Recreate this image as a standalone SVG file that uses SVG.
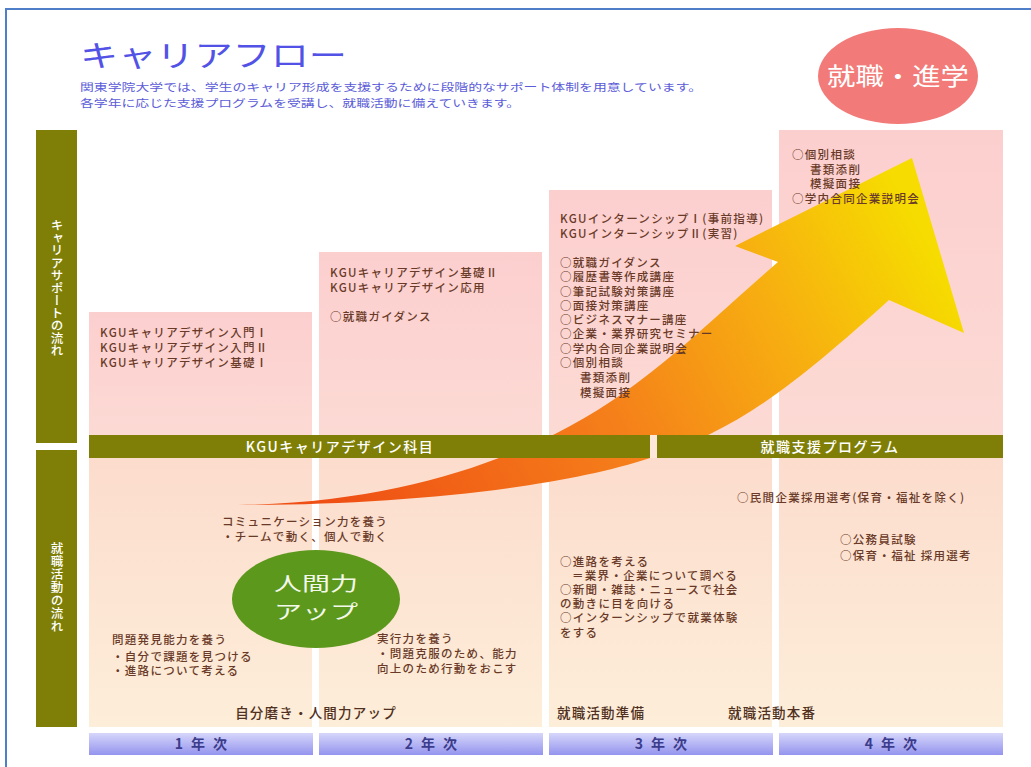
<svg xmlns="http://www.w3.org/2000/svg" width="1031" height="767" viewBox="0 0 1031 767">
<defs>
<style>
text{font-family:"Noto Sans CJK JP","Noto Sans CJK SC",sans-serif}
.t{font-size:11.5px;fill:#6a3a28;letter-spacing:1.3px;font-weight:500}
.band{fill:#7f7f08}
.bandtxt{font-size:14px;fill:#ffffff;letter-spacing:1.5px;text-anchor:middle;font-weight:500}
.side{font-size:12.5px;fill:#ffffff;font-weight:500}
.yr{font-size:14px;fill:#3c3c8c;font-weight:bold;text-anchor:middle;letter-spacing:8px}
.foot{font-size:13.5px;fill:#503020;letter-spacing:1.2px;font-weight:500}
.hp{font-size:19px;fill:#f4f8ea;text-anchor:middle}
</style>
<linearGradient id="pinkTop" x1="0" y1="0" x2="0" y2="1">
<stop offset="0" stop-color="#fccfcf"/>
<stop offset="1" stop-color="#fcdad4"/>
</linearGradient>
<linearGradient id="peach" x1="0" y1="0" x2="0" y2="1">
<stop offset="0" stop-color="#fcdccd"/>
<stop offset="1" stop-color="#fdeed9"/>
</linearGradient>
<linearGradient id="yearG" x1="0" y1="0" x2="0" y2="1">
<stop offset="0" stop-color="#d6d6fb"/>
<stop offset="1" stop-color="#9494ee"/>
</linearGradient>
<linearGradient id="arrowG" gradientUnits="userSpaceOnUse" x1="330" y1="500" x2="900" y2="190">
<stop offset="0" stop-color="#ef4f14"/>
<stop offset="0.45" stop-color="#f5801a"/>
<stop offset="0.75" stop-color="#f7b010"/>
<stop offset="1" stop-color="#f6dc00"/>
</linearGradient>
</defs>

<rect x="0" y="0" width="1031" height="767" fill="#ffffff"/>
<rect x="6" y="9" width="1040" height="780" fill="none" stroke="#4f7fc8" stroke-width="2"/>

<g id="title">
<text x="80" y="66" style="font-size:30px;fill:#5252e6" textLength="267" lengthAdjust="spacingAndGlyphs">キャリアフロー</text>
<text x="80" y="91" style="font-size:10.5px;fill:#5c5cd8" textLength="622" lengthAdjust="spacingAndGlyphs">関東学院大学では、学生のキャリア形成を支援するために段階的なサポート体制を用意しています。</text>
<text x="80" y="107" style="font-size:10.5px;fill:#5c5cd8" textLength="440" lengthAdjust="spacingAndGlyphs">各学年に応じた支援プログラムを受講し、就職活動に備えていきます。</text>
</g>

<g id="goal">
<ellipse cx="898" cy="76" rx="80" ry="48" fill="#f27a78"/>
<text x="898" y="85" style="font-size:24px;fill:#ffffff;text-anchor:middle" textLength="142" lengthAdjust="spacingAndGlyphs">就職・進学</text>
</g>

<g id="sidebars">
<rect x="36" y="130" width="41" height="313" class="band"/>
<text x="57" y="219" class="side" style="writing-mode:vertical-rl">キャリアサポートの流れ</text>
<rect x="36" y="450" width="41" height="277" class="band"/>
<text x="57" y="542" class="side" style="writing-mode:vertical-rl;letter-spacing:0.5px">就職活動の流れ</text>
</g>

<g id="columns">
<rect x="89" y="312" width="223" height="123" fill="url(#pinkTop)"/>
<rect x="319" y="252" width="223" height="183" fill="url(#pinkTop)"/>
<rect x="549" y="190" width="223" height="245" fill="url(#pinkTop)"/>
<rect x="779" y="130" width="224" height="305" fill="url(#pinkTop)"/>
<rect x="89" y="458" width="223" height="269" fill="url(#peach)"/>
<rect x="319" y="458" width="223" height="269" fill="url(#peach)"/>
<rect x="549" y="458" width="223" height="269" fill="url(#peach)"/>
<rect x="779" y="458" width="224" height="269" fill="url(#peach)"/>
</g>

<g id="connectors">
<path d="M238,505 C380,503 480,470 555,434 C640,392 700,330 778,262 L735,246 L912,158 L964,333 L889,300 C800,380 740,430 650,458 C560,488 400,505 238,505 Z" fill="url(#arrowG)"/>
</g>

<g id="bands">
<rect x="89" y="435" width="561" height="23" class="band"/>
<rect x="650" y="435" width="7" height="23" fill="#fde6da"/>
<rect x="657" y="435" width="346" height="23" class="band"/>
<text x="340" y="452" class="bandtxt">KGUキャリアデザイン科目</text>
<text x="830" y="452" class="bandtxt">就職支援プログラム</text>
</g>

<g id="year1">
<text x="100" y="337" class="t">KGUキャリアデザイン入門Ⅰ</text>
<text x="100" y="352" class="t">KGUキャリアデザイン入門Ⅱ</text>
<text x="100" y="367" class="t">KGUキャリアデザイン基礎Ⅰ</text>
<text x="112" y="644" class="t">問題発見能力を養う</text>
<text x="112" y="661" class="t">・自分で課題を見つける</text>
<text x="112" y="675" class="t">・進路について考える</text>
<rect x="89" y="733" width="224" height="22" fill="url(#yearG)"/>
<text x="205" y="749" class="yr">1年次</text>
</g>

<g id="year2">
<text x="330" y="277" class="t">KGUキャリアデザイン基礎Ⅱ</text>
<text x="330" y="292" class="t">KGUキャリアデザイン応用</text>
<text x="330" y="321" class="t">○就職ガイダンス</text>
<text x="377" y="643" class="t">実行力を養う</text>
<text x="377" y="658" class="t">・問題克服のため、能力</text>
<text x="377" y="673" class="t">向上のため行動をおこす</text>
<rect x="319" y="733" width="224" height="22" fill="url(#yearG)"/>
<text x="435" y="749" class="yr">2年次</text>
</g>

<g id="commonSkills">
<text x="222" y="526" class="t">コミュニケーション力を養う</text>
<text x="222" y="541" class="t">・チームで動く、個人で動く</text>
<text x="316" y="718" class="foot" style="text-anchor:middle">自分磨き・人間力アップ</text>
</g>

<g id="humanPower">
<ellipse cx="316" cy="599" rx="84" ry="49" fill="#5c981c"/>
<text x="316" y="591" class="hp" textLength="84" lengthAdjust="spacingAndGlyphs">人間力</text>
<text x="316" y="619" class="hp" textLength="84" lengthAdjust="spacingAndGlyphs">アップ</text>
</g>

<g id="year3">
<text x="560" y="223" class="t">KGUインターンシップⅠ(事前指導)</text>
<text x="560" y="238" class="t">KGUインターンシップⅡ(実習)</text>
<text x="560" y="267" class="t">○就職ガイダンス</text>
<text x="560" y="281" class="t">○履歴書等作成講座</text>
<text x="560" y="296" class="t">○筆記試験対策講座</text>
<text x="560" y="310" class="t">○面接対策講座</text>
<text x="560" y="324" class="t">○ビジネスマナー講座</text>
<text x="560" y="338" class="t">○企業・業界研究セミナー</text>
<text x="560" y="353" class="t">○学内合同企業説明会</text>
<text x="560" y="367" class="t">○個別相談</text>
<text x="580" y="382" class="t">書類添削</text>
<text x="580" y="397" class="t">模擬面接</text>
<text x="560" y="566" class="t">○進路を考える</text>
<text x="572" y="580" class="t">＝業界・企業について調べる</text>
<text x="560" y="594" class="t">○新聞・雑誌・ニュースで社会</text>
<text x="560" y="608" class="t">の動きに目を向ける</text>
<text x="560" y="622" class="t">○インターンシップで就業体験</text>
<text x="560" y="637" class="t">をする</text>
<text x="557" y="718" class="foot">就職活動準備</text>
<rect x="549" y="733" width="224" height="22" fill="url(#yearG)"/>
<text x="665" y="749" class="yr">3年次</text>
</g>

<g id="year4">
<text x="792" y="159" class="t">○個別相談</text>
<text x="810" y="174" class="t">書類添削</text>
<text x="810" y="188" class="t">模擬面接</text>
<text x="792" y="203" class="t">○学内合同企業説明会</text>
<text x="737" y="502" class="t">○民間企業採用選考(保育・福祉を除く)</text>
<text x="840" y="544" class="t">○公務員試験</text>
<text x="840" y="560" class="t">○保育・福祉 採用選考</text>
<text x="728" y="718" class="foot">就職活動本番</text>
<rect x="779" y="733" width="224" height="22" fill="url(#yearG)"/>
<text x="895" y="749" class="yr">4年次</text>
</g>
</svg>
